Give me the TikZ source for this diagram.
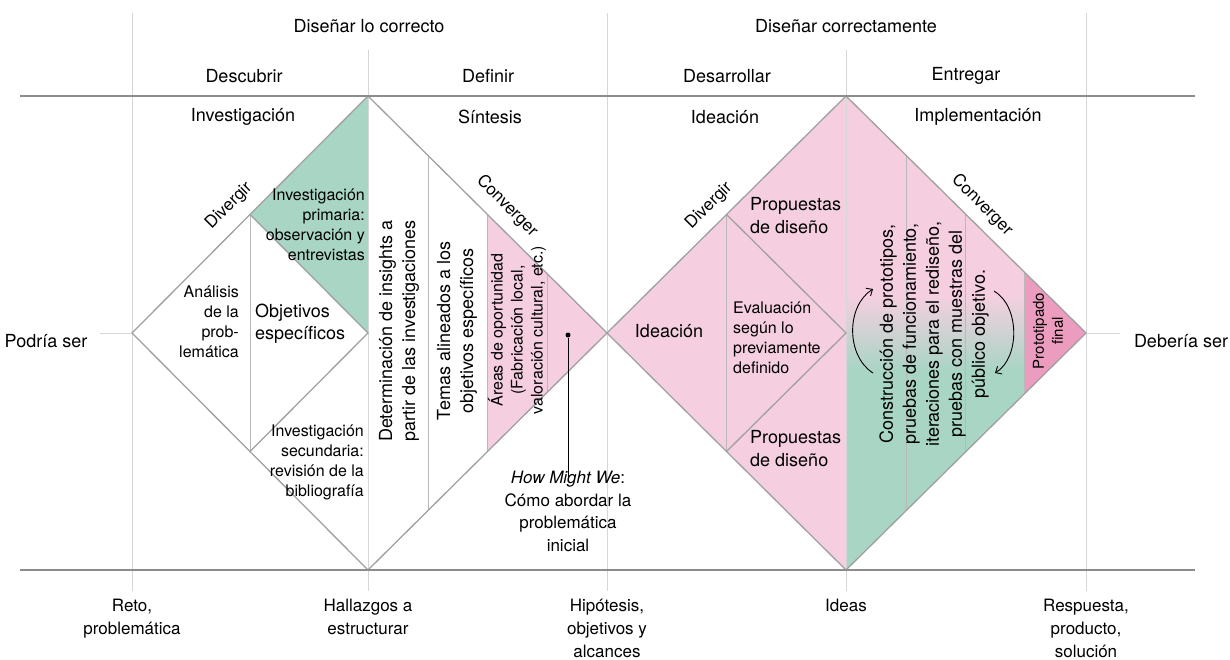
\documentclass[tikz,border=0pt]{standalone}
\usepackage{fontspec}
\setmainfont{TeX Gyre Heros}
\usetikzlibrary{arrows.meta}
\definecolor{greenc}{RGB}{168,213,196}
\definecolor{pinkc}{RGB}{245,207,224}
\definecolor{dpinkc}{RGB}{236,156,191}
\definecolor{edgec}{RGB}{160,160,160}
\definecolor{innerc}{RGB}{185,185,185}
\definecolor{gridc}{RGB}{214,214,214}
\definecolor{axisc}{RGB}{140,140,140}
\pgfdeclareverticalshading{pinkgreen}{100bp}{color(0bp)=(greenc); color(46bp)=(greenc); color(54bp)=(pinkc); color(100bp)=(pinkc)}
\begin{document}
\begin{tikzpicture}[x=1pt,y=-1pt,
  hdr/.style={inner sep=0pt, font=\fontsize{18}{23}\selectfont, align=center},
  low/.style={inner sep=0pt, font=\fontsize{17}{23}\selectfont, align=center},
  hdrb/.style={inner sep=0pt, font=\fontsize{18}{22}\selectfont, align=center},
  body/.style={inner sep=0pt, font=\fontsize{16}{20}\selectfont},
  bigt/.style={inner sep=0pt, font=\fontsize{18}{23}\selectfont},
  diag/.style={inner sep=0pt, font=\fontsize{17}{20}\selectfont},
  edge/.style={draw=edgec, line width=1.3pt},
  inner/.style={draw=innerc, line width=1pt},
  grid/.style={draw=gridc, line width=1pt},
  axis/.style={draw=axisc, line width=2pt},
  cyc/.style={draw=black, line width=0.9pt, -{Straight Barb[length=5pt,width=9pt]}}]
\useasboundingbox (0,0) rectangle (1230,659);
% key points
\coordinate (L) at (132,333);
\coordinate (T1) at (368,96);
\coordinate (M) at (607,333);
\coordinate (B1) at (368,570);
\coordinate (T2) at (846,96);
\coordinate (R) at (1086,333);
\coordinate (B2) at (846,570);
\coordinate (C1) at (368,333);
\coordinate (C2) at (846,333);
\coordinate (it1) at (250,214.5);
\coordinate (ib1) at (250,451.5);
\coordinate (it2) at (726.5,214.5);
\coordinate (ib2) at (726.5,451.5);
% fills
\fill[greenc] (T1) -- (it1) -- (C1) -- cycle;
\fill[pinkc] (487,214) -- (M) -- (487,452) -- cycle;
\fill[pinkc] (M) -- (T2) -- (B2) -- cycle;
\shade[shading=pinkgreen] (T2) -- (R) -- (B2) -- cycle;
\fill[dpinkc] (1024,271.8) -- (R) -- (1024,394.2) -- cycle;
% grid verticals
\coordinate (g1t) at (132,13);  \coordinate (g1b) at (132,591);
\coordinate (g2t) at (368,50);  \coordinate (g2b) at (368,591);
\coordinate (g3t) at (607,13);  \coordinate (g3b) at (607,591);
\coordinate (g4t) at (846,50);  \coordinate (g4b) at (846,591);
\coordinate (g5t) at (1086,13); \coordinate (g5b) at (1086,591);
\foreach \i in {1,...,5} {\draw[grid] (g\i t) -- (g\i b);}
% middle stubs
\coordinate (m1) at (100,333); \coordinate (m2) at (1120,333);
\draw[grid] (m1) -- (L);
\draw[grid] (R) -- (m2);
% inner lines left diamond
\draw[inner] (it1) -- (ib1);
\draw[inner] (428,155.5) -- (428,510.5);
\draw[inner] (487,214) -- (487,452);
\draw[inner] (547,273.5) -- (547,392.5);
% inner lines right diamond
\draw[inner] (it2) -- (ib2);
\draw[inner] (906,155.3) -- (906,510.7);
\draw[inner] (965,213.5) -- (965,452.5);
\draw[inner] (1024,271.8) -- (1024,394.2);
% diamond edges
\draw[edge] (L) -- (T1) -- (M) -- (B1) -- cycle;
\draw[edge] (it1) -- (C1) -- (ib1);
\draw[edge] (M) -- (T2) -- (R) -- (B2) -- cycle;
\draw[edge] (it2) -- (C2) -- (ib2);
% axes
\coordinate (a1) at (20,96);  \coordinate (a2) at (1195,96);
\coordinate (a3) at (20,570); \coordinate (a4) at (1195,570);
\draw[axis] (a1) -- (a2);
\draw[axis] (a3) -- (a4);
% headers
\node[hdr] (h1) at (369,26) {Diseñar lo correcto};
\node[hdr] (h2) at (846,26) {Diseñar correctamente};
\node[hdr] (s1) at (244,76) {Descubrir};
\node[hdr] (s2) at (488,76) {Definir};
\node[hdr] (s3) at (727,76) {Desarrollar};
\node[hdr] (s4) at (966,76) {Entregar};
\node[hdrb] (p1) at (243,117) {Investigación};
\node[hdrb] (p2) at (490,117) {Síntesis};
\node[hdrb] (p3) at (725,117) {Ideación};
\node[hdrb] (p4) at (978,117) {Implementación};
% side labels
\node[hdr] (ps) at (46,341) {Podría ser};
\node[hdr] (ds) at (1181,341) {Debería ser};
% bottom labels
\node[low, anchor=north] (b1) at (132,599) {Reto,\\problemática};
\node[low, anchor=north] (b2) at (368,599) {Hallazgos a\\estructurar};
\node[low, anchor=north] (b3) at (607,599) {Hipótesis,\\objetivos y\\alcances};
\node[low, anchor=north] (b4) at (846,599) {Ideas};
\node[low, anchor=north] (b5) at (1086,599) {Respuesta,\\producto,\\solución};
% diagonal labels
\node[diag, rotate=45] (dv1) at (229,206) {Divergir};
\node[diag, rotate=-45] (cv1) at (507,206) {Converger};
\node[diag, rotate=45] (dv2) at (709,206) {Divergir};
\node[diag, rotate=-45] (cv2) at (982,205) {Converger};
% Descubrir contents
\node[body, align=right, anchor=east] (ip) at (365,225) {Investigación\\primaria:\\observación y\\entrevistas};
\node[body, align=right, anchor=east] (an) at (239,322) {Análisis\\de la\\prob-\\lemática};
\node[inner sep=0pt, font=\fontsize{18}{22}\selectfont, align=left, anchor=west] (oe) at (255,324) {Objetivos\\específicos};
\node[body, align=right, anchor=east] (is) at (364,462) {Investigación\\secundaria:\\revisión de la\\bibliografía};
% Definir contents
\node[bigt, align=center, rotate=90] (di) at (399,331) {Determinación de insights a\\partir de las investigaciones};
\node[bigt, align=center, rotate=90] (ta) at (457,331) {Temas alineados a los\\objetivos específicos};
\node[body, align=center, rotate=90] (ao) at (517,330) {Áreas de oportunidad\\(Fabricación local,\\valoración cultural, etc.)};
\node[circle, fill=black, inner sep=0pt, minimum size=5pt] (dot) at (568,335) {};
\node[inner sep=0pt, font=\fontsize{17}{22.5}\selectfont, align=center, anchor=north] (hmw) at (568,471) {\textit{How Might We}:\\Cómo abordar la\\problemática\\inicial};
\draw[black, line width=1pt] (dot) -- ([yshift=-8pt]hmw.north);
% Desarrollar contents
\node[bigt, align=left, anchor=west] (pd1) at (750,216) {Propuestas\\de diseño};
\node[bigt, anchor=center] (ide) at (669,331) {Ideación};
\node[body, align=left, anchor=west] (ev) at (733,338) {Evaluación\\según lo\\previamente\\definido};
\node[bigt, align=left, anchor=west] (pd2) at (750,449) {Propuestas\\de diseño};
% Entregar contents
\node[bigt, align=center, rotate=90] (cp) at (934,334) {Construcción de prototipos,\\pruebas de funcionamiento,\\iteraciones para el rediseño,\\pruebas con muestras del\\público objetivo.};
\node[inner sep=0pt, font=\fontsize{15}{19}\selectfont, align=center, rotate=90] (pf) at (1048,331) {Prototipado\\final};
\coordinate (ar1s) at (873,373); \coordinate (ar1e) at (873,289);
\coordinate (ar2s) at (994,291); \coordinate (ar2e) at (995,373);
\draw[cyc] (ar1s) .. controls (846,356) and (846,306) .. (ar1e);
\draw[cyc] (ar2s) .. controls (1020,306) and (1020,358) .. (ar2e);
\end{tikzpicture}
\end{document}
